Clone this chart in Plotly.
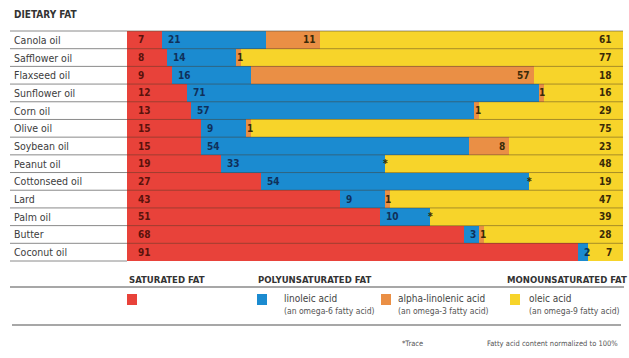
import plotly.graph_objects as go

# ---------------- data ----------------
oils = ["Canola oil", "Safflower oil", "Flaxseed oil", "Sunflower oil", "Corn oil",
        "Olive oil", "Soybean oil", "Peanut oil", "Cottonseed oil", "Lard",
        "Palm oil", "Butter", "Coconut oil"]
saturated = [7, 8, 9, 12, 13, 15, 15, 19, 27, 43, 51, 68, 91]
linoleic = [21, 14, 16, 71, 57, 9, 54, 33, 54, 9, 10, 3, 2]
alpha_linolenic = [11, 1, 57, 1, 1, 1, 8, 0, 0, 1, 0, 1, 0]
alpha_text = ["11", "1", "57", "1", "1", "1", "8", "*", "*", "1", "*", "1", ""]
oleic = [61, 77, 18, 16, 29, 75, 23, 48, 19, 47, 39, 28, 7]

RED = "#e8423a"
BLUE = "#1b8bd0"
ORANGE = "#ea8f45"
YELLOW = "#f7d42a"

FONT = "DejaVu Sans Condensed, Liberation Sans Narrow, Arial Narrow, sans-serif"

# pixel geometry of plot area
L, R, T, B = 127, 623, 31, 261
W, H = 629, 358


def px(xp):
    return (xp - L) / (R - L)


def py(yp):
    return (B - yp) / (B - T)


fig = go.Figure()
for name, vals, col in [("Saturated", saturated, RED), ("Linoleic", linoleic, BLUE),
                        ("Alpha-linolenic", alpha_linolenic, ORANGE), ("Oleic", oleic, YELLOW)]:
    fig.add_trace(go.Bar(y=oils, x=vals, orientation="h", name=name,
                         marker=dict(color=col, line=dict(width=0)),
                         hoverinfo="x+y+name"))

ann = []
shapes = []
num_font = dict(family=FONT, size=10, color="#3a2a08")
for i, oil in enumerate(oils):
    s, l, a, o = saturated[i], linoleic[i], alpha_linolenic[i], oleic[i]
    ann.append(dict(x=0, y=oil, xref="x", yref="y", text="<b>%d</b>" % s, showarrow=False,
                    xanchor="left", xshift=9, font=dict(family=FONT, size=10, color="#5a120c")))
    ann.append(dict(x=s, y=oil, xref="x", yref="y", text="<b>%d</b>" % l, showarrow=False,
                    xanchor="left", xshift=4, font=dict(family=FONT, size=10, color="#10305a")))
    if alpha_text[i]:
        if a >= 5:
            ann.append(dict(x=s + l + a, y=oil, xref="x", yref="y", text="<b>%s</b>" % alpha_text[i],
                            showarrow=False, xanchor="right", xshift=-2, font=num_font))
        else:
            ann.append(dict(x=s + l + a / 2, y=oil, xref="x", yref="y", text="<b>%s</b>" % alpha_text[i],
                            showarrow=False, xanchor="center", xshift=1, font=num_font))
    ann.append(dict(x=100, y=oil, xref="x", yref="y", text="<b>%d</b>" % o, showarrow=False,
                    xanchor="right", xshift=-9, font=num_font))
    # label column
    ann.append(dict(x=px(12), y=oil, xref="paper", yref="y", text=oil, showarrow=False,
                    xanchor="left", font=dict(family=FONT, size=10.5, color="#3c3c3c")))

# row separator lines
n = len(oils)
for k in range(n + 1):
    yp = T + k * (B - T) / n
    shapes.append(dict(type="line", xref="paper", yref="paper", x0=px(10), x1=px(127),
                       y0=py(yp), y1=py(yp), line=dict(color="#8a8a8a", width=1)))
    if 0 < k < n:
        shapes.append(dict(type="line", xref="paper", yref="paper", x0=0, x1=1,
                           y0=py(yp), y1=py(yp), line=dict(color="rgba(70,55,35,0.45)", width=1)))
shapes.append(dict(type="line", xref="paper", yref="paper", x0=0, x1=1, y0=1, y1=1,
                   line=dict(color="rgba(90,80,60,0.6)", width=1)))

# title
ann.append(dict(x=px(12), y=py(15), xref="paper", yref="paper", text="<b>DIETARY FAT</b>",
                showarrow=False, xanchor="left", yanchor="middle",
                font=dict(family=FONT, size=10, color="#333333")))

# legend headers
hdr_font = dict(family=FONT, size=9.5, color="#333333")
for xp, txt in [(127, "SATURATED FAT"), (256, "POLYUNSATURATED FAT"), (505, "MONOUNSATURATED FAT")]:
    ann.append(dict(x=px(xp), y=py(279), xref="paper", yref="paper", text="<b>" + txt + "</b>",
                    showarrow=False, xanchor="left", yanchor="middle", font=hdr_font))
shapes.append(dict(type="line", xref="paper", yref="paper", x0=px(10), x1=px(624),
                   y0=py(287), y1=py(287), line=dict(color="#8a8a8a", width=1.5)))
shapes.append(dict(type="line", xref="paper", yref="paper", x0=px(12), x1=px(621),
                   y0=py(325), y1=py(325), line=dict(color="#8a8a8a", width=1.5)))

# legend squares and texts
for xp, col in [(127, RED), (257, BLUE), (381, ORANGE), (510, YELLOW)]:
    shapes.append(dict(type="rect", xref="paper", yref="paper", x0=px(xp), x1=px(xp + 10),
                       y0=py(305), y1=py(294), fillcolor=col, line=dict(width=0)))
for xp, t1, t2 in [(282, "linoleic acid", "(an omega-6 fatty acid)"),
                   (396, "alpha-linolenic acid", "(an omega-3 fatty acid)"),
                   (527, "oleic acid", "(an omega-9 fatty acid)")]:
    ann.append(dict(x=px(xp), y=py(298), xref="paper", yref="paper", text=t1, showarrow=False,
                    xanchor="left", yanchor="middle", font=dict(family=FONT, size=10, color="#444444")))
    ann.append(dict(x=px(xp), y=py(311), xref="paper", yref="paper", text=t2, showarrow=False,
                    xanchor="left", yanchor="middle", font=dict(family=FONT, size=8.5, color="#555555")))

# footnotes
ann.append(dict(x=px(400), y=py(343), xref="paper", yref="paper", text="*Trace", showarrow=False,
                xanchor="left", yanchor="middle", font=dict(family=FONT, size=7.5, color="#555555")))
ann.append(dict(x=px(620), y=py(343), xref="paper", yref="paper",
                text="Fatty acid content normalized to 100%", showarrow=False,
                xanchor="right", yanchor="middle", font=dict(family=FONT, size=7.5, color="#555555")))

fig.update_layout(
    barmode="stack", bargap=0, width=W, height=H,
    margin=dict(l=L, r=W - R, t=T, b=H - B, pad=0),
    paper_bgcolor="white", plot_bgcolor="white", showlegend=False,
    xaxis=dict(range=[0, 100], visible=False, fixedrange=True),
    yaxis=dict(autorange="reversed", visible=False, fixedrange=True),
    annotations=ann, shapes=shapes,
)
fig.write_html("out.html")
